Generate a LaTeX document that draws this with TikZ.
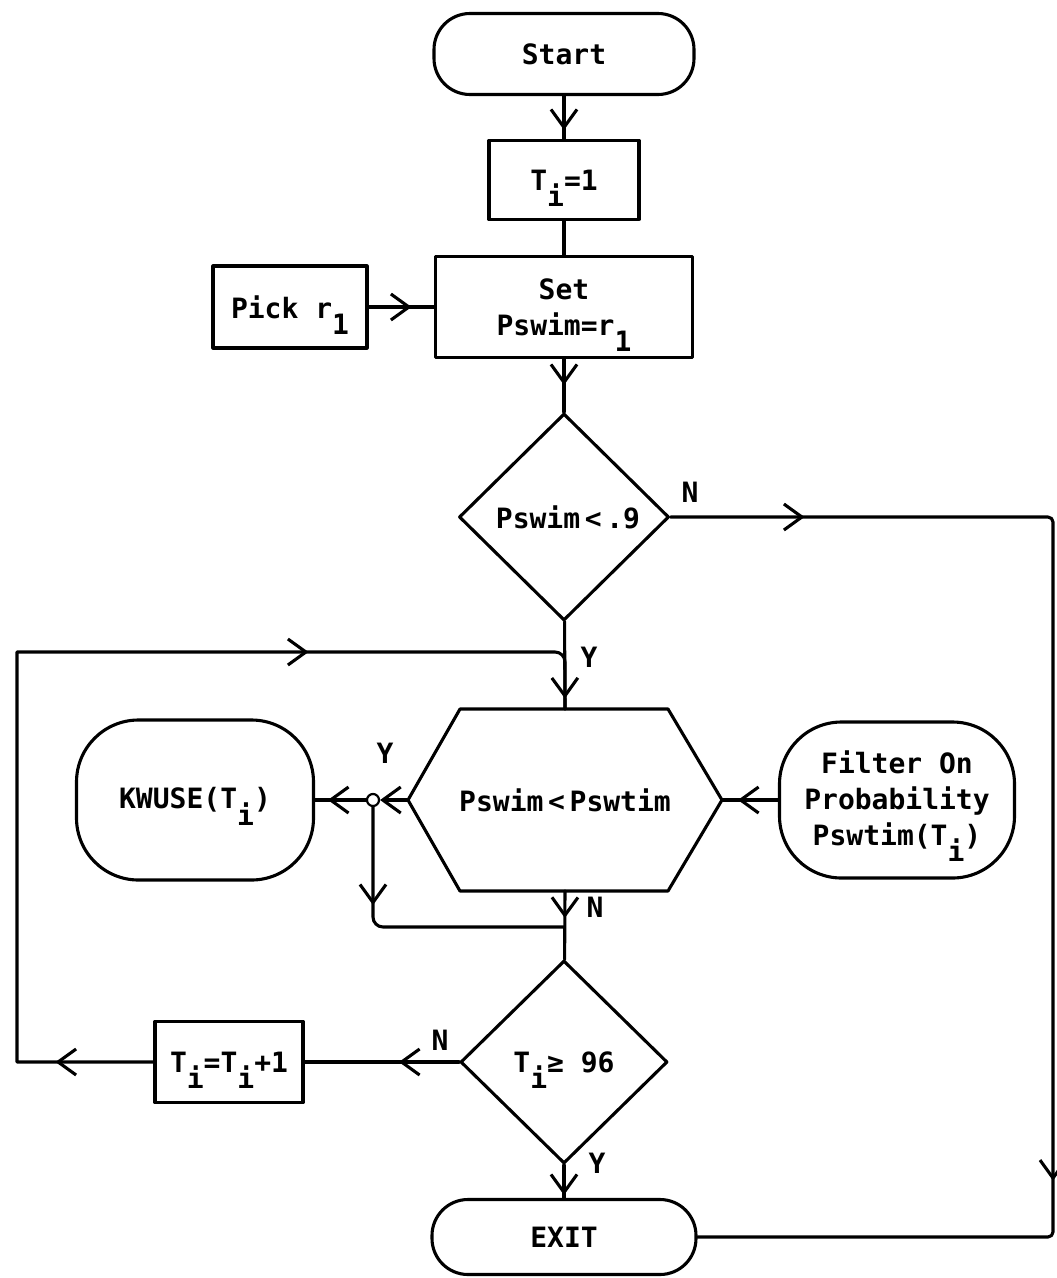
\documentclass[tikz,border=0pt]{standalone}
\usepackage{fontspec}
\setmainfont{DejaVu Sans Mono}
\usetikzlibrary{arrows.meta,decorations.markings,shapes.geometric,calc}

% lowered index letter, as typed on the typewriter (T_i, r_1)
\newcommand{\lowr}[1]{\raisebox{-0.58em}[0pt][0pt]{#1}}

\tikzset{
  vtip/.tip={Straight Barb[length=18pt,width=26pt]},
  flow/.style={line width=3.1pt, line cap=round, line join=round},
  midarr/.style={postaction={decorate,
      decoration={markings, mark=at position #1 with {\arrow{vtip}}}}},
  pill/.style={draw, flow, rounded corners=#1, inner sep=0pt, align=center},
  boxn/.style={draw, flow, inner sep=0pt, align=center},
  decide/.style={draw, flow, diamond, aspect=1, inner sep=0pt},
  lbl/.style={inner sep=0pt},
}

\begin{document}
\begin{tikzpicture}[x=1pt, y=-1pt,
  every node/.style={font=\fontsize{28}{36}\selectfont\bfseries}]
\useasboundingbox (0,0) rectangle (1057,1278);

% ---- blocks ----
\node[pill=36pt, minimum width=260, minimum height=81] (start) at (564,54) {Start};
\node[boxn, minimum width=150, minimum height=79] (t1) at (564,180) {T\lowr{i}=1};
\node[boxn, minimum width=257, minimum height=101] (set) at (564,307) {Set\\Pswim=r\lowr{1}};
\node[boxn, minimum width=154, minimum height=82] (pick) at (290,307) {Pick r\lowr{1}};
\node[decide, minimum width=210, minimum height=207] (d1) at (564,517) {\hspace{8pt}Pswim\,<\,.9};

% six-sided test box
\node[minimum width=314, minimum height=182, inner sep=0pt, outer sep=0pt] (hex) at (565,800) {Pswim\,<\,Pswtim};
\draw[flow] (hex.west) -- ([xshift=52pt]hex.north west) -- ([xshift=-54pt]hex.north east)
  -- (hex.east) -- ([xshift=-54pt]hex.south east) -- ([xshift=52pt]hex.south west) -- cycle;

\node[circle, draw, line width=2.2pt, minimum size=12, inner sep=0pt] (jn) at (373,800) {};
\node[pill=62pt, minimum width=237, minimum height=160] (kw) at (195,800) {KWUSE(T\lowr{i})};
\node[pill=62pt, minimum width=235, minimum height=156] (filt) at (897,800)
  {Filter On\\Probability\\Pswtim(T\lowr{i})};

\node[decide, minimum width=207, minimum height=203] (d2) at (564,1062) {T\lowr{i}≥ 96};
\node[boxn, minimum width=148, minimum height=81] (inc) at (229,1062) {T\lowr{i}=T\lowr{i}+1};
\node[pill=36pt, minimum width=264, minimum height=75] (exit) at (564,1237) {EXIT};

% ---- branch labels ----
\node[lbl] (nd1) at (690,492) {N};
\node[lbl] (yd1) at (589,657) {Y};
\node[lbl] (yjn) at (385,753) {Y};
\node[lbl] (nhex) at (595,907) {N};
\node[lbl] (nd2) at (440,1040) {N};
\node[lbl] (yd2) at (597,1163) {Y};

% ---- free corner points ----
\coordinate (rt) at (1053,517);
\coordinate (lb) at (17,1062);
\coordinate (lt) at (17,652);
\coordinate (ybot) at (373,927);

% ---- connectors ----
\draw[flow, midarr=34pt] (start) -- (t1);
\draw[flow] (t1) -- (set);
\draw[flow, midarr=43pt] (pick) -- (set);
\draw[flow, midarr=26pt] (set) -- (d1);
\draw[flow, rounded corners=5pt, midarr=134pt, midarr=1044pt] (d1.east) -- (rt) |- (exit.east);
\draw[flow, midarr=77pt] (d1) -- (hex.north);
\draw[flow, midarr=98pt, midarr=838pt]
  (inc.west) -- (lb) -- (lt) [rounded corners=10pt] -- (lt -| hex.north) -- (hex.north);
\draw[flow, -{vtip}] (hex.west) -- (jn.east);
\draw[flow, midarr=38pt] (jn.west) -- (kw.east);
\draw[flow, rounded corners=10pt, midarr=98pt] (jn.south) -- (ybot) -- (ybot -| d2.north);
\draw[flow, midarr=40pt] (filt.west) -- (hex.east);
\draw[flow, midarr=27pt] (hex.south) -- (d2);
\draw[flow, midarr=60pt] (d2) -- (inc);
\draw[flow, midarr=30pt] (d2) -- (exit);
\end{tikzpicture}
\end{document}
